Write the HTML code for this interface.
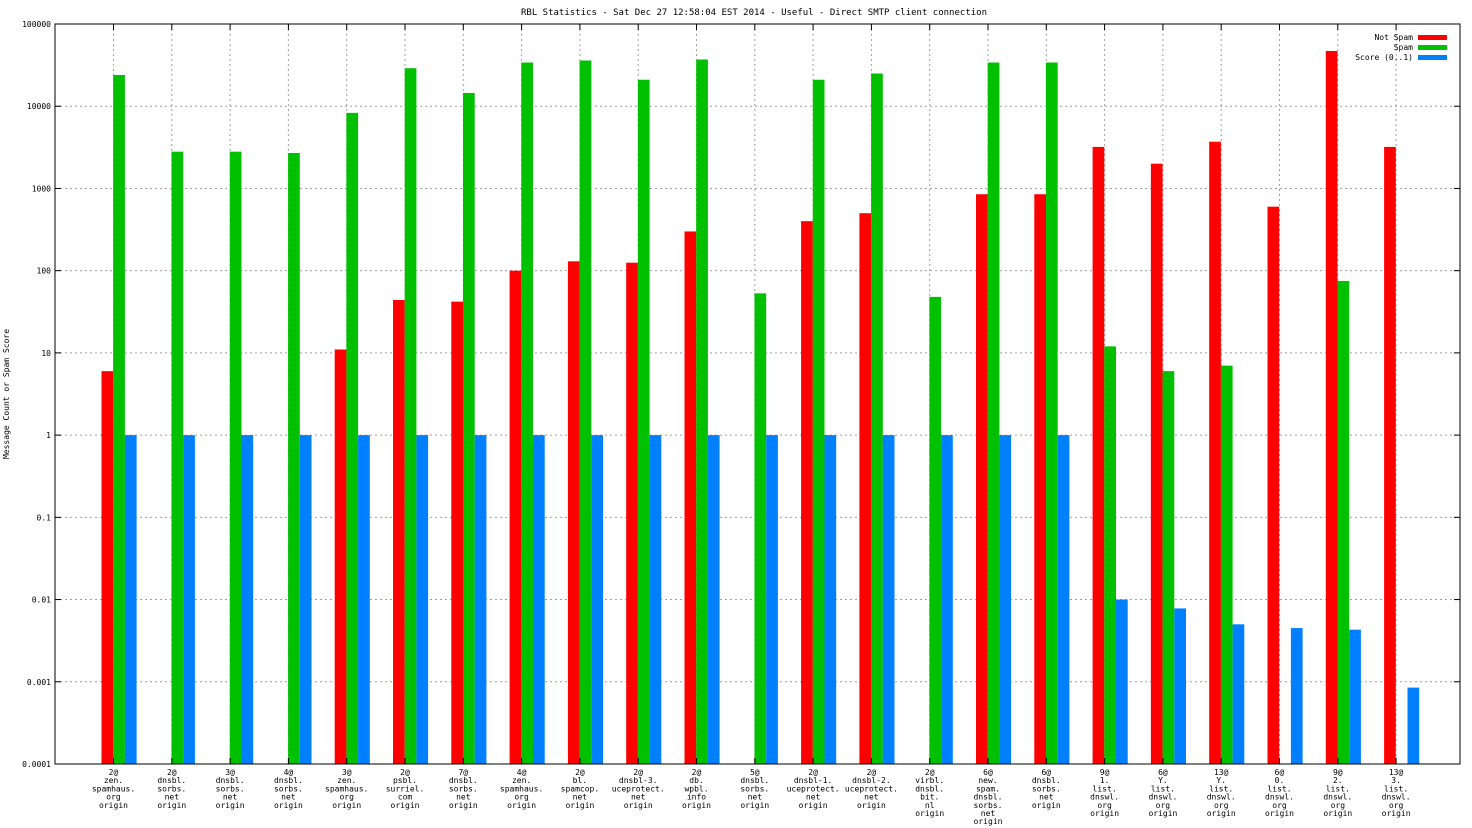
<!DOCTYPE html>
<html><head><meta charset="utf-8"><style>
body{margin:0;background:#fff;}
svg{display:block;font-family:"DejaVu Sans Mono","Liberation Mono",monospace;}
</style></head><body>
<svg id="chart" width="1472" height="828" xmlns="http://www.w3.org/2000/svg">
<text x="754" y="15" font-size="9" text-anchor="middle">RBL Statistics - Sat Dec 27 12:58:04 EST 2014 - Useful - Direct SMTP client connection</text>
<text transform="translate(9,394) rotate(-90)" font-size="8" text-anchor="middle">Message Count or Spam Score</text>
<g id="grid"></g><g id="bars"></g><g id="axes"></g>
</svg>
<script>
const categories=[
["2@","zen.","spamhaus.","org","origin"],["2@","dnsbl.","sorbs.","net","origin"],["3@","dnsbl.","sorbs.","net","origin"],["4@","dnsbl.","sorbs.","net","origin"],["3@","zen.","spamhaus.","org","origin"],["2@","psbl.","surriel.","com","origin"],["7@","dnsbl.","sorbs.","net","origin"],["4@","zen.","spamhaus.","org","origin"],["2@","bl.","spamcop.","net","origin"],["2@","dnsbl-3.","uceprotect.","net","origin"],["2@","db.","wpbl.","info","origin"],["5@","dnsbl.","sorbs.","net","origin"],["2@","dnsbl-1.","uceprotect.","net","origin"],["2@","dnsbl-2.","uceprotect.","net","origin"],["2@","virbl.","dnsbl.","bit.","nl","origin"],["6@","new.","spam.","dnsbl.","sorbs.","net","origin"],["6@","dnsbl.","sorbs.","net","origin"],["9@","1.","list.","dnswl.","org","origin"],["6@","Y.","list.","dnswl.","org","origin"],["13@","Y.","list.","dnswl.","org","origin"],["6@","0.","list.","dnswl.","org","origin"],["9@","2.","list.","dnswl.","org","origin"],["13@","3.","list.","dnswl.","org","origin"]];
const notSpam=[6,0,0,0,11,44,42,100,130,125,300,0,400,500,0,850,850,3200,2000,3700,600,47000,3200];
const spam=[24000,2800,2800,2700,8300,29000,14500,34000,36000,21000,37000,53,21000,25000,48,34000,34000,12,6,7,0,75,0];
const score=[1,1,1,1,1,1,1,1,1,1,1,1,1,1,1,1,1,0.01,0.0078,0.005,0.0045,0.0043,0.00085];
const yTicks=["0.0001","0.001","0.01","0.1","1","10","100","1000","10000","100000"];
const seriesNames=["Not Spam","Spam","Score (0..1)"];
const colors=["#ff0000","#00c000","#0080ff"];
const L=55,R=1460,T=24,B=764,NS="http://www.w3.org/2000/svg";
const xs=i=>113.5+i*58.3;
const ys=v=>B-(Math.log10(v)+4)/9*(B-T);
function mk(tag,attrs,parent){const e=document.createElementNS(NS,tag);for(const k in attrs)e.setAttribute(k,attrs[k]);parent.appendChild(e);return e;}
const grid=document.getElementById('grid'),bars=document.getElementById('bars'),axes=document.getElementById('axes');
yTicks.forEach((t,i)=>{const y=ys(parseFloat(t));
 if(i>0&&i<yTicks.length-1){const g=mk('line',{x1:L,x2:R,y1:y,y2:y,stroke:'#a0a0a0','stroke-dasharray':'2,3'},grid);
 
 }
 mk('line',{x1:L,x2:L+6,y1:y,y2:y,stroke:'#000'},axes);mk('line',{x1:R,x2:R-6,y1:y,y2:y,stroke:'#000'},axes);
 const tx=mk('text',{x:L-4,y:y+3,'font-size':8,'text-anchor':'end'},axes);tx.textContent=t;
 
 });
categories.forEach((c,i)=>{const x=xs(i);
 const g=mk('line',{x1:x,x2:x,y1:T,y2:B,stroke:'#a0a0a0','stroke-dasharray':'2,3'},grid);
 
 
 mk('line',{x1:x,x2:x,y1:B,y2:B-6,stroke:'#000'},axes);mk('line',{x1:x,x2:x,y1:T,y2:T+6,stroke:'#000'},axes);
 const tx=mk('text',{x:x,y:775,'font-size':8,'text-anchor':'middle'},axes);
 
 
 c.forEach((ln,j)=>{const s=mk('tspan',{x:x,dy:j?8.2:0},tx);s.textContent=ln;});
 [notSpam,spam,score].forEach((arr,k)=>{const v=arr[i];if(!v)return;const y=ys(v);
  const r=mk('rect',{x:x-12+k*11.7,y:y,width:11.7,height:B-y,fill:colors[k]},bars);
  
  });});
const fr=mk('rect',{x:L,y:T,width:R-L,height:B-T,fill:'none',stroke:'#000'},axes);


seriesNames.forEach((n,k)=>{const y=37+k*10;
 const t=mk('text',{x:1413,y:y+3,'font-size':8,'text-anchor':'end'},axes);t.textContent=n;
 
 
 const r=mk('rect',{x:1418,y:y-2,width:29,height:5,fill:colors[k]},axes);
 
 });
</script>
</body></html>
